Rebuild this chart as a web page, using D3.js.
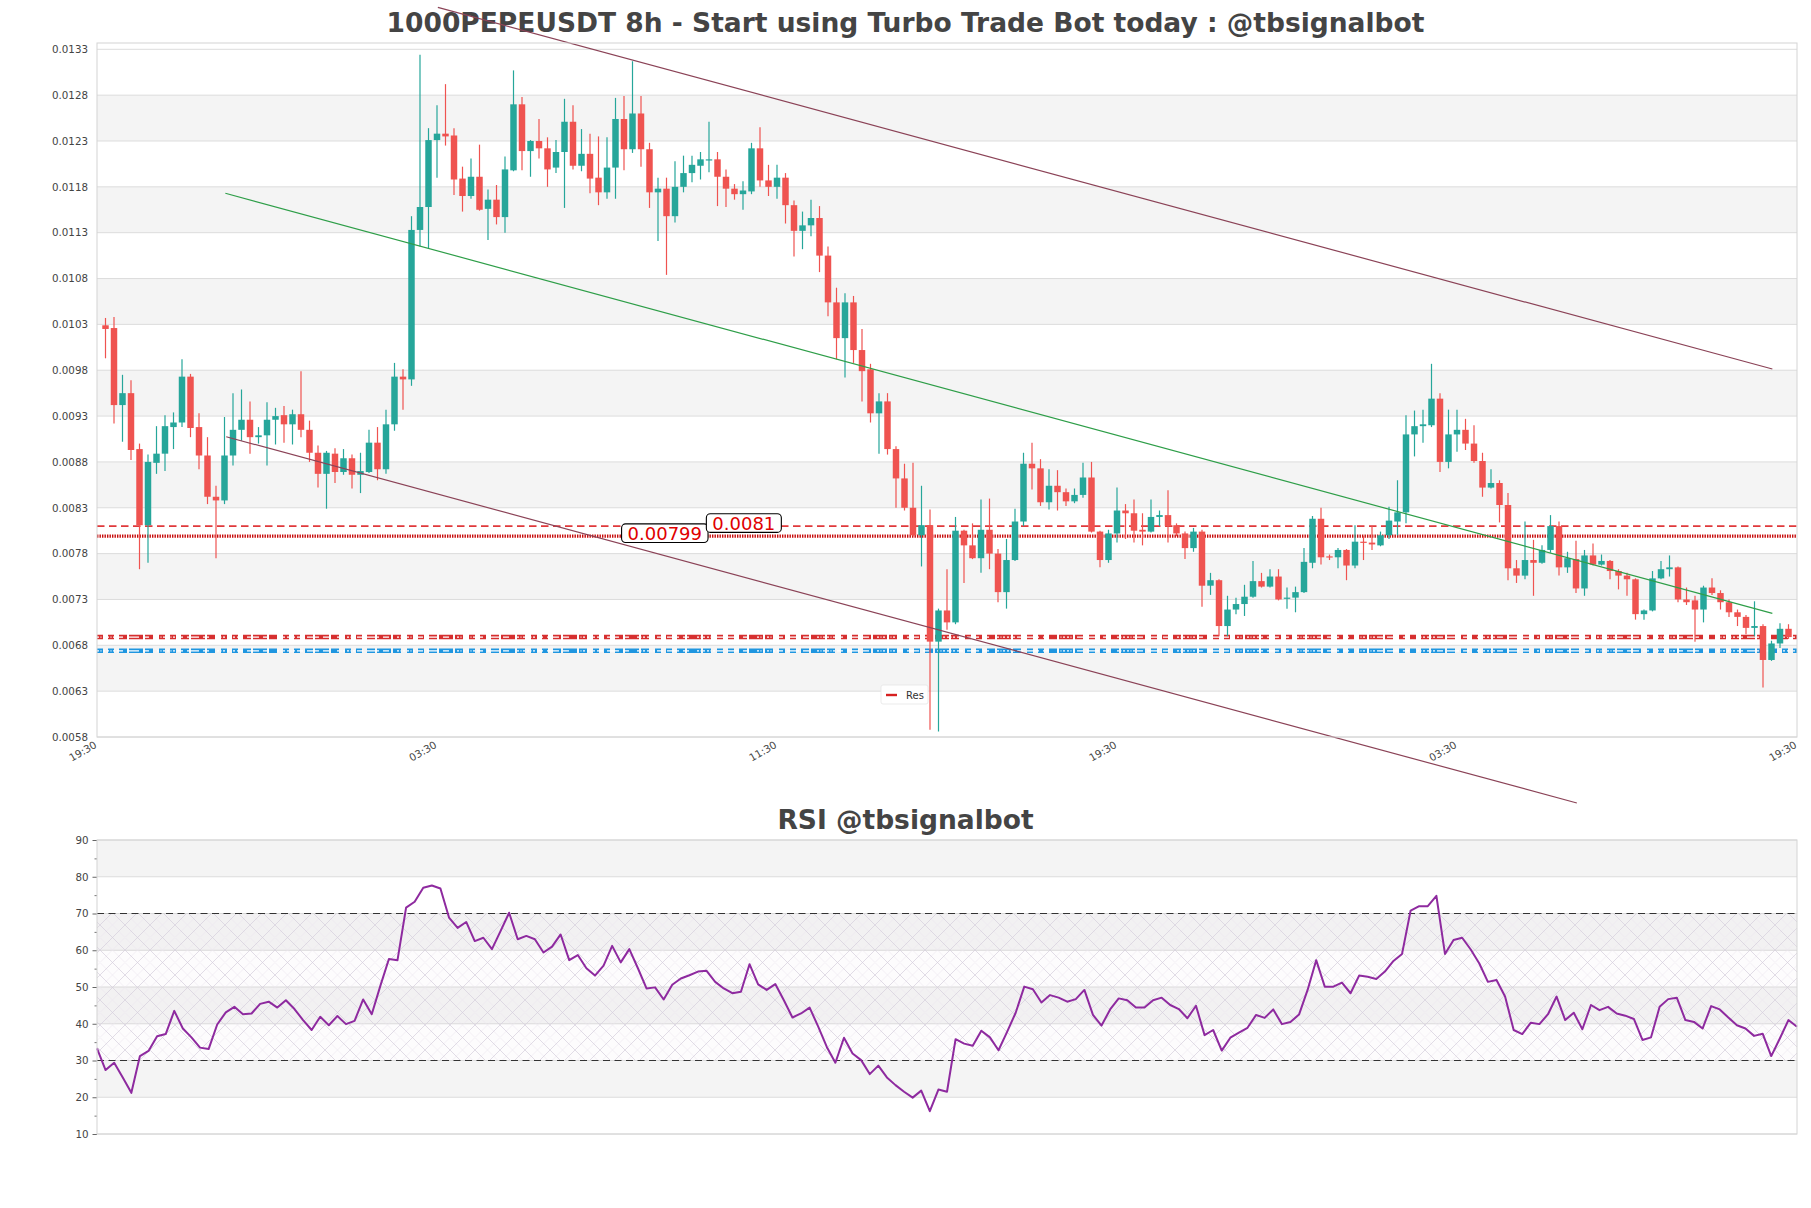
<!DOCTYPE html>
<html><head><meta charset="utf-8">
<script src="https://cdn.jsdelivr.net/npm/d3@7"></script>
<style>
body{margin:0;background:#fff;}
svg{display:block;font-family:"DejaVu Sans",sans-serif;}
</style></head><body>
<svg id="chart" width="1811" height="1208"></svg>
<script>
const opens = [0.01029,0.01026,0.00942,0.00955,0.00894,0.00811,0.00879,0.00889,0.00918,0.00923,
0.00973,0.00918,0.00887,0.00842,0.00838,0.00887,0.00915,0.00926,0.00907,0.00909,
0.00926,0.00931,0.00921,0.00932,0.00915,0.0089,0.00867,0.00889,0.00869,0.00884,
0.00866,0.00869,0.00901,0.00872,0.00921,0.00973,0.0097,0.01133,0.01158,0.01231,
0.01238,0.01236,0.01189,0.0117,0.01191,0.01156,0.01166,0.01147,0.01198,0.0127,
0.01219,0.0123,0.01222,0.01201,0.01218,0.01251,0.01203,0.01216,0.0119,0.01174,
0.01201,0.01254,0.01221,0.0126,0.01221,0.01174,0.01178,0.01148,0.0118,0.01195,
0.01203,0.01209,0.0121,0.01191,0.01178,0.01172,0.01175,0.01222,0.01187,0.0118,
0.0119,0.0116,0.01132,0.01138,0.01146,0.01105,0.01054,0.01015,0.01054,0.01002,
0.00981,0.00933,0.00946,0.00894,0.00862,0.0083,0.008,0.00811,0.00684,0.00718,
0.00705,0.00805,0.00789,0.00775,0.00806,0.0078,0.00738,0.00773,0.00815,0.00878,
0.00873,0.00836,0.00854,0.00847,0.00837,0.00844,0.00863,0.00804,0.00773,0.00802,
0.00827,0.00824,0.00806,0.00804,0.0082,0.00822,0.00811,0.00802,0.00786,0.00804,
0.00745,0.00751,0.00701,0.00719,0.00725,0.00733,0.0075,0.00744,0.00755,0.00731,
0.00732,0.00738,0.0077,0.00818,0.00777,0.00776,0.00784,0.00767,0.00793,0.00792,
0.00789,0.008,0.00815,0.00825,0.0091,0.00919,0.0092,0.00949,0.0088,0.0091,
0.00915,0.009,0.00881,0.00852,0.00857,0.00833,0.00764,0.00756,0.00773,0.0077,
0.00784,0.0081,0.00765,0.00774,0.00742,0.00778,0.00768,0.00772,0.00761,0.00756,
0.00752,0.00714,0.00718,0.00753,0.00763,0.00765,0.0073,0.00729,0.00719,0.00743,
0.00737,0.00727,0.00716,0.00711,0.00699,0.00701,0.00664,0.00682,0.00698];
const highs = [0.01037,0.01038,0.00975,0.00969,0.0090,0.00888,0.00919,0.00931,0.00934,0.00992,
0.00976,0.00933,0.00907,0.00854,0.00929,0.00955,0.00959,0.00946,0.00918,0.00945,
0.00939,0.00941,0.00937,0.00979,0.00925,0.00898,0.00892,0.00895,0.00894,0.00888,
0.0089,0.00915,0.00918,0.00937,0.00988,0.00981,0.01148,0.01324,0.01244,0.01269,
0.01292,0.01244,0.01202,0.01211,0.01226,0.01177,0.01182,0.01213,0.01307,0.01278,
0.01231,0.01254,0.01234,0.01231,0.01276,0.01269,0.01243,0.01238,0.01235,0.01234,
0.01277,0.01279,0.01317,0.01279,0.01228,0.0119,0.0119,0.01208,0.01214,0.01214,
0.01218,0.01251,0.01218,0.01199,0.01183,0.01186,0.01228,0.01245,0.01204,0.01204,
0.01195,0.01165,0.01153,0.01166,0.01159,0.01115,0.0107,0.01064,0.01061,0.01025,
0.00987,0.00955,0.00955,0.00897,0.00878,0.00879,0.00854,0.00828,0.0072,0.00763,
0.0082,0.00806,0.00813,0.00839,0.0084,0.00785,0.00796,0.00829,0.0089,0.00901,
0.00883,0.00872,0.00871,0.00851,0.00851,0.00879,0.0088,0.00805,0.00806,0.00852,
0.00834,0.00839,0.00824,0.00839,0.00827,0.00849,0.00813,0.00804,0.00808,0.00806,
0.00759,0.00752,0.00734,0.00732,0.00746,0.00772,0.00759,0.00763,0.00763,0.00743,
0.00744,0.00786,0.00821,0.0083,0.00779,0.00786,0.00785,0.00811,0.00799,0.0081,
0.00804,0.00831,0.0086,0.00931,0.00936,0.00937,0.00987,0.00955,0.00937,0.00937,
0.00927,0.0092,0.0089,0.00872,0.0086,0.00846,0.00773,0.00815,0.00795,0.00789,
0.00822,0.00815,0.00782,0.00794,0.00784,0.00791,0.00779,0.00773,0.00763,0.00759,
0.00753,0.00719,0.00761,0.00772,0.00778,0.00766,0.00743,0.00734,0.00745,0.00753,
0.0074,0.0073,0.00719,0.00713,0.00728,0.00703,0.00685,0.00704,0.00703];
const lows = [0.00993,0.00922,0.00902,0.00882,0.00763,0.0077,0.00867,0.0087,0.00894,0.00918,
0.00907,0.00872,0.00834,0.00775,0.00834,0.00876,0.00903,0.00889,0.009,0.00876,
0.00899,0.00901,0.00899,0.00907,0.0088,0.00852,0.00829,0.00857,0.00866,0.00851,
0.00846,0.00868,0.0086,0.00867,0.00914,0.00937,0.00963,0.01115,0.01113,0.0119,
0.01225,0.01171,0.01153,0.01167,0.01154,0.01122,0.01139,0.0113,0.01197,0.01198,
0.01191,0.01211,0.0118,0.01195,0.01157,0.01199,0.01197,0.01173,0.0116,0.01167,
0.01167,0.01198,0.01217,0.01202,0.01157,0.01121,0.01084,0.01141,0.01174,0.01185,
0.01188,0.01196,0.01159,0.01158,0.01166,0.01155,0.01172,0.0118,0.0117,0.01167,
0.0114,0.01104,0.01112,0.01126,0.01087,0.01039,0.00992,0.00972,0.00988,0.00946,
0.00923,0.00889,0.00888,0.0083,0.00827,0.00799,0.00766,0.00588,0.00586,0.00697,
0.00703,0.00748,0.00774,0.00759,0.00763,0.00727,0.0072,0.00772,0.0081,0.0085,
0.00832,0.00828,0.00827,0.00832,0.00835,0.00841,0.00803,0.00765,0.0077,0.00792,
0.00796,0.00792,0.00789,0.00803,0.0081,0.00792,0.00799,0.00774,0.00782,0.00722,
0.00735,0.0069,0.0069,0.00714,0.00712,0.00732,0.00743,0.00743,0.00729,0.0072,
0.00716,0.00737,0.00764,0.00768,0.00773,0.00764,0.00751,0.00764,0.00773,0.00784,
0.00788,0.00796,0.008,0.00813,0.00886,0.00901,0.00918,0.00869,0.00873,0.00891,
0.00893,0.00879,0.00842,0.00851,0.00814,0.00751,0.00748,0.00752,0.00734,0.00769,
0.00781,0.00756,0.00759,0.00737,0.00734,0.00767,0.00767,0.00752,0.00741,0.00734,
0.00708,0.00708,0.00717,0.00752,0.00755,0.00727,0.00724,0.00684,0.00705,0.00735,
0.00719,0.00711,0.00701,0.00692,0.0069,0.00634,0.00663,0.00677,0.00687];
const closes = [0.01025,0.00942,0.00955,0.00893,0.00811,0.0088,0.00889,0.00919,0.00923,0.00973,
0.00917,0.00887,0.00842,0.00838,0.00887,0.00915,0.00926,0.00907,0.00909,0.00926,
0.0093,0.00921,0.00932,0.00915,0.0089,0.00867,0.0089,0.00869,0.00884,0.00866,
0.0087,0.00901,0.00872,0.00921,0.00973,0.0097,0.01133,0.01158,0.01231,0.01238,
0.01235,0.01188,0.0117,0.01191,0.01155,0.01166,0.01147,0.01199,0.0127,0.01219,
0.0123,0.01222,0.01199,0.01218,0.01251,0.01203,0.01216,0.01189,0.01174,0.01201,
0.01254,0.01221,0.0126,0.01221,0.01174,0.01178,0.01148,0.0118,0.01195,0.01204,
0.0121,0.0121,0.01191,0.01178,0.01172,0.01176,0.01222,0.01187,0.0118,0.0119,
0.0116,0.01132,0.01138,0.01146,0.01105,0.01054,0.01015,0.01054,0.01002,0.00979,
0.00933,0.00946,0.00894,0.00862,0.0083,0.008,0.00811,0.00684,0.00718,0.00705,
0.00805,0.00789,0.00775,0.00806,0.0078,0.00738,0.00773,0.00815,0.00878,0.00873,
0.00836,0.00854,0.00847,0.00837,0.00844,0.00863,0.00804,0.00773,0.00802,0.00827,
0.00824,0.00805,0.00804,0.0082,0.00822,0.0081,0.00802,0.00786,0.00804,0.00745,
0.00751,0.00701,0.00719,0.00725,0.00733,0.0075,0.00744,0.00755,0.0073,0.00732,
0.00738,0.00771,0.00818,0.00776,0.00776,0.00784,0.00767,0.00793,0.00792,0.0079,
0.008,0.00816,0.00825,0.0091,0.00919,0.00921,0.00949,0.0088,0.0091,0.00915,
0.009,0.00881,0.00852,0.00857,0.00833,0.00764,0.00756,0.00773,0.0077,0.00784,
0.0081,0.00765,0.00775,0.00742,0.00778,0.00768,0.00772,0.00761,0.00756,0.00752,
0.00714,0.00718,0.00753,0.00763,0.00765,0.0073,0.00727,0.00719,0.00743,0.00737,
0.00727,0.00716,0.00711,0.00699,0.00701,0.00664,0.00682,0.00698,0.00689];
const rsiValues = [33.3,27.4,29.4,25.4,21.2,31.2,32.6,36.6,37.2,43.5,38.7,36.3,33.5,33.1,39.8,43.1,44.6,42.6,42.8,45.4,
46.0,44.4,46.4,44.0,41.0,38.3,41.9,39.6,42.1,39.9,40.8,46.6,42.6,50.3,57.6,57.3,71.6,73.2,77.0,77.6,
76.8,68.9,66.1,67.7,62.5,63.4,60.3,65.2,70.2,63.0,63.9,63.0,59.4,61.0,64.3,57.3,58.7,55.1,53.1,55.8,
61.2,56.7,60.3,55.1,49.6,49.9,46.6,50.6,52.3,53.2,54.2,
54.4,51.4,49.6,48.3,48.7,56.2,50.7,49.2,50.8,46.4,41.7,42.8,44.4,39.2,33.7,29.4,36.2,31.9,30.1,26.3,
28.6,25.4,23.3,21.5,19.9,21.8,16.2,22.1,21.5,35.8,34.6,34.0,38.1,36.3,32.8,37.8,43.0,50.1,49.4,45.8,
47.8,47.1,46.0,46.7,49.2,42.4,39.5,43.9,46.9,46.4,44.4,44.4,46.4,47.1,45.1,44.0,41.5,44.9,36.9,38.3,
32.7,36.2,37.6,38.9,42.4,41.6,43.9,39.9,40.5,42.5,
49.2,57.3,50.1,50.1,51.2,48.3,53.1,52.8,52.2,54.2,57.1,59.0,70.8,72.0,72.0,74.8,59.0,62.8,63.4,60.2,
56.4,51.4,51.9,47.4,38.3,37.2,40.3,39.9,42.6,47.4,41.0,43.0,38.5,45.1,43.7,44.6,42.8,42.2,41.3,35.6,
36.3,44.6,46.7,47.1,41.0,40.5,38.7,44.8,43.9,41.7,39.6,38.7,36.7,37.3,31.2,36.0,41.0,39.2];

const priceTicks = [0.0058,0.0063,0.0068,0.0073,0.0078,0.0083,0.0088,0.0093,0.0098,0.0103,0.0108,0.0113,0.0118,0.0123,0.0128,0.0133];
const rsiTicks = [10,20,30,40,50,60,70,80,90];
const rsiMinorTicks = [15,25,35,45,55,65,75,85];
const xTickIndex = [-1,39,79,119,159,199];
const xTickLabels = ["19:30","03:30","11:30","19:30","03:30","19:30"];
const levelValues = [0.0081,0.00799,0.00689,0.00674];
const labelValues = [0.00799,0.0081];
const labelTexts = ["0.00799","0.0081"];
const labelIndex = [65.8,75.1];
const trendStartIdx = [39.1,14.2,14.1];
const trendStartPrice = [0.013758,0.009075,0.01173];
const trendEndIdx = [196.1,173.1,196.1];
const trendEndPrice = [0.009813,0.00508,0.007149];
const trendColors = ["#8b4357","#8b4357","#2e9e48"];
const rsiBounds = [30,70];
const titleMain = "1000PEPEUSDT 8h - Start using Turbo Trade Bot today : @tbsignalbot";
const titleRsi = "RSI @tbsignalbot";

const svg = d3.select("#chart");
const L = 97, Rr = 1797, T = 43, B = 737;
const RT = 840, RB = 1134;

const x = d3.scaleLinear().domain([-1,199]).range([L,Rr]);
const y = d3.scaleLinear().domain([0.0058,0.0133]).range([B,49.3]);
const rx = d3.scaleLinear().domain([0,rsiValues.length-1]).range([L,Rr]);
const ry = d3.scaleLinear().domain([10,90]).range([RB,RT]);

const defs = svg.append("defs");
const pat = defs.append("pattern").attr("id","hatch").attr("patternUnits","userSpaceOnUse")
  .attr("width",25).attr("height",25);
pat.append("path").attr("d","M12.5,0 L25,12.5 M0,12.5 L12.5,25 M12.5,0 L0,12.5 M25,12.5 L12.5,25")
  .attr("stroke","#ebe6ef").attr("stroke-width",0.6).attr("fill","none");
pat.append("path").attr("d","M0,0 L25,25 M25,0 L0,25")
  .attr("stroke","#d6cfdd").attr("stroke-width",0.7).attr("fill","none");

// Titles
svg.append("text").attr("x",905.5).attr("y",32).attr("text-anchor","middle")
  .attr("font-size",26.5).attr("font-weight","bold").attr("fill","#444").text(titleMain);
svg.append("text").attr("x",905.5).attr("y",829).attr("text-anchor","middle")
  .attr("font-size",26.5).attr("font-weight","bold").attr("fill","#444").text(titleRsi);

// ---- Main panel ----
const main = svg.append("g");
main.append("rect").attr("x",L).attr("y",T).attr("width",Rr-L).attr("height",B-T).attr("fill","#fff");
priceTicks.forEach((p,i)=>{
  if (i%2===1 && i<priceTicks.length-1) {
    main.append("rect").attr("x",L).attr("width",Rr-L)
      .attr("y",y(priceTicks[i+1])).attr("height",y(p)-y(priceTicks[i+1])).attr("fill","#f4f4f4");
  }
});
main.append("g").selectAll("line").data(priceTicks).join("line")
  .attr("x1",L).attr("x2",Rr).attr("y1",d=>y(d)).attr("y2",d=>y(d))
  .attr("stroke","#dcdcdc").attr("stroke-width",1);

const yAxis = main.append("g").attr("transform",`translate(${L},0)`)
  .call(d3.axisLeft(y).tickValues(priceTicks).tickSize(0).tickPadding(9).tickFormat(d3.format(".4f")));
yAxis.select(".domain").remove();
yAxis.selectAll("text").attr("font-size",10.3).attr("fill","#444").attr("font-family","DejaVu Sans");

const xAxis = main.append("g").attr("transform",`translate(0,${B})`)
  .call(d3.axisBottom(x).tickValues(xTickIndex).tickSize(0).tickFormat((d,i)=>xTickLabels[i]));
xAxis.select(".domain").remove();
xAxis.selectAll("text").attr("x",0).attr("y",0).attr("dy",0)
  .attr("transform","translate(0,10) rotate(-30)").attr("text-anchor","end")
  .attr("font-size",10.3).attr("fill","#444").attr("font-family","DejaVu Sans");

// horizontal levels
const lv = main.append("g");
lv.append("line").attr("x1",L).attr("x2",Rr).attr("y1",y(levelValues[0])).attr("y2",y(levelValues[0]))
  .attr("stroke","#e0393b").attr("stroke-width",1.6).attr("stroke-dasharray","7.5,4.5");
lv.append("line").attr("x1",L).attr("x2",Rr).attr("y1",y(levelValues[1])).attr("y2",y(levelValues[1]))
  .attr("stroke","#c80a0a").attr("stroke-width",3.3).attr("stroke-dasharray","1.4,1.1");
[[levelValues[2],"#d62f2f"],[levelValues[3],"#1f96e0"]].forEach(([v,c])=>{
  lv.append("line").attr("x1",L).attr("x2",Rr).attr("y1",y(v)).attr("y2",y(v))
    .attr("stroke",c).attr("stroke-width",4.4).attr("stroke-dasharray","6,5,6,5,8,2,14,2,8,6");
  lv.append("line").attr("x1",L).attr("x2",Rr).attr("y1",y(v)).attr("y2",y(v))
    .attr("stroke","#fff").attr("stroke-width",1.3).attr("stroke-dasharray","2,1.5,1,1.5,2,2,2,1.5,1,1.5,2,2,6,4,12,4,6,8")
    .attr("stroke-dashoffset",0);
});

// candles
const bw = (x(1)-x(0))*0.76;
const cg = main.append("g");
opens.forEach((o,i)=>{
  const c = closes[i], up = c>=o, col = up ? "#26a69a" : "#ef5350";
  const cx = x(i);
  cg.append("line").attr("x1",cx).attr("x2",cx).attr("y1",y(highs[i])).attr("y2",y(lows[i]))
    .attr("stroke",col).attr("stroke-width",1.2);
  const top = y(Math.max(o,c)), bot = y(Math.min(o,c));
  cg.append("rect").attr("x",cx-bw/2).attr("width",bw).attr("y",top).attr("height",Math.max(1.2,bot-top))
    .attr("fill",col);
});

// trend lines
trendStartIdx.forEach((s,i)=>{
  main.append("line").attr("x1",x(s)).attr("y1",y(trendStartPrice[i]))
    .attr("x2",x(trendEndIdx[i])).attr("y2",y(trendEndPrice[i]))
    .attr("stroke",trendColors[i]).attr("stroke-width",1.2);
});

// border
main.append("rect").attr("x",L).attr("y",T).attr("width",Rr-L).attr("height",B-T)
  .attr("fill","none").attr("stroke","#d4d4d4").attr("stroke-width",1);

// legend
const lg = main.append("g");
lg.append("rect").attr("x",881).attr("y",685).attr("width",47).attr("height",19).attr("rx",2)
  .attr("fill","#fff").attr("fill-opacity",0.85).attr("stroke","#e6e6e6").attr("stroke-width",0.8);
lg.append("line").attr("x1",886).attr("x2",897).attr("y1",695).attr("y2",695)
  .attr("stroke","#d62020").attr("stroke-width",2.4);
lg.append("text").attr("x",906).attr("y",698.5).attr("font-size",10).attr("fill","#333").text("Res");

// value labels
labelValues.forEach((v,i)=>{
  const g = main.append("g");
  const t = g.append("text").attr("x",x(labelIndex[i])).attr("y",y(v)-3)
    .attr("text-anchor","middle").attr("dominant-baseline","central")
    .attr("font-size",18).attr("fill","#e00000").text(labelTexts[i]);
  const bb = t.node().getBBox();
  g.insert("rect","text").attr("x",bb.x-6).attr("y",y(v)-3-9.3).attr("width",bb.width+12).attr("height",18.6)
    .attr("rx",4).attr("fill","#fff").attr("stroke","#000").attr("stroke-width",1.1);
});

// ---- RSI panel ----
const rp = svg.append("g");
rp.append("rect").attr("x",L).attr("y",RT).attr("width",Rr-L).attr("height",RB-RT).attr("fill","#fff");
[[80,90],[60,70],[40,50],[20,30]].forEach(([a,b])=>{
  rp.append("rect").attr("x",L).attr("width",Rr-L).attr("y",ry(b)).attr("height",ry(a)-ry(b)).attr("fill","#f4f4f4");
});
rp.append("g").selectAll("line").data(rsiTicks).join("line")
  .attr("x1",L).attr("x2",Rr).attr("y1",d=>ry(d)).attr("y2",d=>ry(d))
  .attr("stroke","#dcdcdc").attr("stroke-width",1);
rp.append("rect").attr("x",L).attr("width",Rr-L).attr("y",ry(rsiBounds[1])).attr("height",ry(rsiBounds[0])-ry(rsiBounds[1]))
  .attr("fill","rgba(190,160,210,0.035)");
rp.append("rect").attr("x",L).attr("width",Rr-L).attr("y",ry(rsiBounds[1])).attr("height",ry(rsiBounds[0])-ry(rsiBounds[1]))
  .attr("fill","url(#hatch)");
rsiBounds.forEach(v=>{
  rp.append("line").attr("x1",L).attr("x2",Rr).attr("y1",ry(v)).attr("y2",ry(v))
    .attr("stroke","#333").attr("stroke-width",1.2).attr("stroke-dasharray","7,4.5");
});
const ra = rp.append("g").attr("transform",`translate(${L},0)`)
  .call(d3.axisLeft(ry).tickValues(rsiTicks).tickSize(4.5).tickPadding(4));
ra.select(".domain").remove();
ra.selectAll("line").attr("stroke","#666");
ra.selectAll("text").attr("font-size",10.3).attr("fill","#444").attr("font-family","DejaVu Sans");
const rm = rp.append("g").attr("transform",`translate(${L},0)`)
  .call(d3.axisLeft(ry).tickValues(rsiMinorTicks).tickSize(2.5).tickFormat(""));
rm.select(".domain").remove();
rm.selectAll("line").attr("stroke","#777");

rp.append("path").datum(rsiValues)
  .attr("d",d3.line().x((d,i)=>rx(i)).y(d=>ry(d)))
  .attr("fill","none").attr("stroke","#8e2a9f").attr("stroke-width",2).attr("stroke-linejoin","round");
rp.append("rect").attr("x",L).attr("y",RT).attr("width",Rr-L).attr("height",RB-RT)
  .attr("fill","none").attr("stroke","#d4d4d4").attr("stroke-width",1);
</script>
</body></html>
